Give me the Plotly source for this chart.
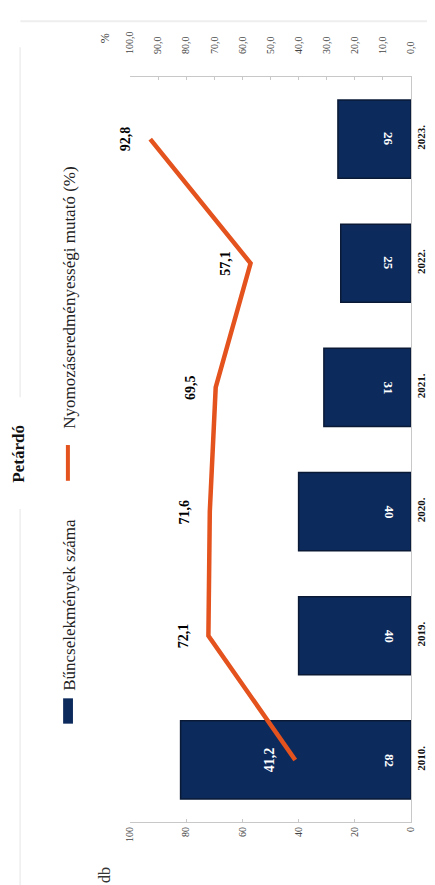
import plotly.graph_objects as go

years = ["2010.", "2019.", "2020.", "2021.", "2022.", "2023."]
crimes = [82, 40, 40, 31, 25, 26]
clearance = [41.2, 72.1, 71.6, 69.5, 57.1, 92.8]
db_ticks = [0, 20, 40, 60, 80, 100]
pct_ticks = [0, 10, 20, 30, 40, 50, 60, 70, 80, 90, 100]

SERIF = "Liberation Serif, Times New Roman, serif"
NAVY = "#0D2A5C"
ORANGE = "#E4521E"
AX = "#C8C8C8"


def hu(v):
    return f"{v:.1f}".replace(".", ",")


fig = go.Figure()
fig.add_trace(go.Bar(
    x=crimes, y=years, orientation="h",
    marker=dict(color=NAVY, line=dict(color="#0A1A36", width=1.5)),
    xaxis="x", yaxis="y", name="Bűncselekmények száma",
))
fig.add_trace(go.Scatter(
    x=clearance, y=years, mode="lines",
    line=dict(color=ORANGE, width=4.5),
    xaxis="x2", yaxis="y", name="Nyomozáseredményességi mutató (%)",
))

annotations = []
# bar value labels near the bar base
for i, c in enumerate(crimes):
    annotations.append(dict(
        x=0, y=i, xref="x", yref="y", text=f"<b>{c}</b>",
        showarrow=False, textangle=90, xshift=-22,
        xanchor="center", yanchor="middle",
        font=dict(family=SERIF, size=13, color="white"),
    ))
# line value labels
for i, v in enumerate(clearance):
    annotations.append(dict(
        x=v, y=i, xref="x2", yref="y", text=f"<b>{hu(v)}</b>",
        showarrow=False, textangle=-90, xshift=-25,
        xanchor="center", yanchor="middle",
        font=dict(family=SERIF, size=14, color="white" if v < 50 else "black"),
    ))


def paper_text(x, y, text, size, color="#222"):
    return dict(x=x, y=y, xref="paper", yref="paper", text=text, showarrow=False,
                textangle=-90, xanchor="center", yanchor="middle",
                font=dict(family=SERIF, size=size, color=color))


annotations += [
    paper_text(-0.089, 1.052, "%", 12, "#333"),
    paper_text(-0.089, -0.071, "db", 16, "#333"),
    paper_text(-0.215, 0.291, "Bűncselekmények száma", 17),
    paper_text(-0.215, 0.703, "Nyomozáseredményességi mutató (%)", 17),
    paper_text(-0.397, 0.495, "<b>Petárdó</b>", 17, "#111"),
]

shapes = [
    dict(type="rect", xref="paper", yref="paper", x0=-0.238, x1=-0.203, y0=0.132, y1=0.166,
         fillcolor=NAVY, line=dict(width=0)),
    dict(type="line", xref="paper", yref="paper", x0=-0.221, x1=-0.221, y0=0.458, y1=0.506,
         line=dict(color=ORANGE, width=4)),
    dict(type="line", xref="paper", yref="paper", x0=-0.391, x1=-0.391, y0=-0.1, y1=0.42,
         line=dict(color="#EEEEEE", width=1.5)),
    dict(type="line", xref="paper", yref="paper", x0=-0.391, x1=-0.391, y0=0.57, y1=1.04,
         line=dict(color="#EEEEEE", width=1.5)),
    dict(type="line", xref="paper", yref="paper", x0=-0.39, x1=1.1, y0=1.075, y1=1.075,
         line=dict(color="#EEEEEE", width=2)),
]

fig.update_layout(
    width=435, height=885,
    margin=dict(l=122, r=32, t=69, b=71),
    paper_bgcolor="white", plot_bgcolor="white",
    showlegend=False, bargap=0.37,
    font=dict(family=SERIF, color="#333"),
    xaxis=dict(range=[100, 0], tickvals=db_ticks, tickangle=-90, side="bottom",
               showgrid=False, zeroline=False, showline=True, linecolor=AX,
               ticks="inside", ticklen=3, tickcolor=AX,
               tickfont=dict(family=SERIF, size=10, color="#444")),
    xaxis2=dict(range=[100, 0], tickvals=pct_ticks, ticktext=[hu(t) for t in pct_ticks],
                tickangle=-90, side="top", overlaying="x",
                showgrid=False, zeroline=False, showline=True, linecolor=AX,
                ticks="inside", ticklen=3, tickcolor=AX, ticklabelstandoff=20,
                tickfont=dict(family=SERIF, size=10, color="#444")),
    yaxis=dict(type="category", categoryorder="array", categoryarray=years,
               range=[-0.5, len(years) - 0.5], autorange=False,
               side="right", tickangle=-90, showgrid=False,
               showline=True, linecolor=AX, ticks="",
               tickfont=dict(family=SERIF, size=11, color="#111", weight="bold")),
    annotations=annotations, shapes=shapes,
)

fig.write_html("out.html")
